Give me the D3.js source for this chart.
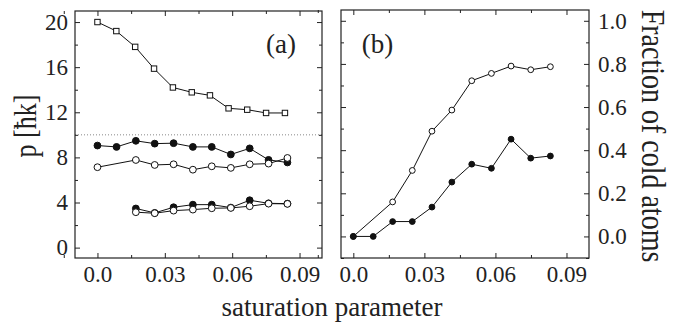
<!DOCTYPE html>
<html>
<head>
<meta charset="utf-8">
<script src="https://cdn.jsdelivr.net/npm/d3@7"></script>
<style>
  body { margin: 0; background: #fff; }
  svg text { font-family: "Liberation Serif", "Times New Roman", serif; }
  .axis path { display: none; }
  .axis line { stroke: #222; }
  .axis text { font-size: 23px; fill: #222; font-family: "Liberation Serif", serif; }
</style>
</head>
<body>
<svg width="689" height="322"></svg>
<script>

// panel (a): momentum p [hbar k] vs saturation parameter
var xSquares = [0, 0.0084, 0.0168, 0.0252, 0.0336, 0.042, 0.0501, 0.0584, 0.0667, 0.0751, 0.0835];
var pSquares = [20.0, 19.2, 17.8, 15.87, 14.2, 13.77, 13.5, 12.35, 12.23, 11.94, 11.94];

var xCircles = [0, 0.0085, 0.0171, 0.0255, 0.0339, 0.0425, 0.0509, 0.0594, 0.0678, 0.0762, 0.0846];
var pFilledHigh = [9.05, 8.93, 9.47, 9.22, 9.26, 8.93, 8.93, 8.26, 8.8, 7.78, 7.55];
var xOpenHigh = [0, 0.0171, 0.0255, 0.0339, 0.0425, 0.0509, 0.0594, 0.0678, 0.0762, 0.0846];
var pOpenHigh = [7.13, 7.77, 7.33, 7.39, 6.91, 7.21, 7.07, 7.39, 7.45, 7.95];

var xLow = [0.0171, 0.0255, 0.0339, 0.0425, 0.0509, 0.0594, 0.0678, 0.0762, 0.0846];
var pFilledLow = [3.47, 3.08, 3.58, 3.81, 3.81, 3.55, 4.2, 3.93, 3.9];
var pOpenLow = [3.14, 3.05, 3.28, 3.37, 3.49, 3.52, 3.67, 3.9, 3.88];

var pLimit = 10;

// panel (b): fraction of cold atoms
var xFrac = [0, 0.0084, 0.0166, 0.0249, 0.0332, 0.0416, 0.05, 0.0583, 0.0666, 0.0749, 0.0832];
var fracOpen = [0, null, 0.16, 0.306, 0.488, 0.586, 0.722, 0.756, 0.79, 0.773, 0.787];
var fracFilled = [0, 0, 0.069, 0.069, 0.136, 0.252, 0.335, 0.316, 0.451, 0.363, 0.373];

var xTicks = [0, 0.03, 0.06, 0.09];
var xMinor = [-0.015, 0.015, 0.045, 0.075];
var pTicks = [0, 4, 8, 12, 16, 20];
var pMinor = [2, 6, 10, 14, 18];
var fTicks = [0, 0.2, 0.4, 0.6, 0.8, 1.0];
var fMinor = [-0.1, 0.1, 0.3, 0.5, 0.7, 0.9];

var svg = d3.select("svg");

function zip(xs, ys) {
  return xs.map(function(x, i) { return [x, ys[i]]; })
    .filter(function(d) { return d[1] != null; });
}

// box with inward ticks on all four sides
function frame(g, x, y, minorY, majorY, leftLabels, rightLabels) {
  var x0 = x.range()[0], x1 = x.range()[1], y0 = y.range()[0], y1 = y.range()[1];

  g.append("g").attr("class", "axis")
      .attr("transform", "translate(0," + y0 + ")")
      .call(d3.axisBottom(x).tickValues(xTicks).tickSize(-5).tickPadding(8)
        .tickFormat(function(d) { return d === 0 ? "0.0" : d3.format(".2f")(d); }));
  g.append("g").attr("class", "axis")
      .attr("transform", "translate(0," + y0 + ")")
      .call(d3.axisBottom(x).tickValues(xMinor).tickSize(-3).tickFormat(""));
  g.append("g").attr("class", "axis")
      .attr("transform", "translate(0," + y1 + ")")
      .call(d3.axisTop(x).tickValues(xTicks).tickSize(-5).tickFormat(""));
  g.append("g").attr("class", "axis")
      .attr("transform", "translate(0," + y1 + ")")
      .call(d3.axisTop(x).tickValues(xMinor).tickSize(-3).tickFormat(""));

  g.append("g").attr("class", "axis")
      .attr("transform", "translate(" + x0 + ",0)")
      .call(d3.axisLeft(y).tickValues(majorY).tickSize(-5).tickPadding(7)
        .tickFormat(leftLabels || ""));
  g.append("g").attr("class", "axis")
      .attr("transform", "translate(" + x0 + ",0)")
      .call(d3.axisLeft(y).tickValues(minorY).tickSize(-3).tickFormat(""));
  g.append("g").attr("class", "axis")
      .attr("transform", "translate(" + x1 + ",0)")
      .call(d3.axisRight(y).tickValues(majorY).tickSize(-5).tickPadding(9)
        .tickFormat(rightLabels || ""));
  g.append("g").attr("class", "axis")
      .attr("transform", "translate(" + x1 + ",0)")
      .call(d3.axisRight(y).tickValues(minorY).tickSize(-3).tickFormat(""));

  g.append("rect")
      .attr("x", x0).attr("y", y1)
      .attr("width", x1 - x0).attr("height", y0 - y1)
      .attr("fill", "none").attr("stroke", "#222").attr("stroke-width", 1.2);
}

function series(g, x, y, pts, shape, fill, size) {
  var line = d3.line().x(function(d) { return x(d[0]); }).y(function(d) { return y(d[1]); });
  g.append("path").datum(pts)
      .attr("d", line).attr("fill", "none").attr("stroke", "#111").attr("stroke-width", 1);
  if (shape === "square") {
    g.selectAll(null).data(pts).enter().append("rect")
        .attr("x", function(d) { return x(d[0]) - size; })
        .attr("y", function(d) { return y(d[1]) - size; })
        .attr("width", size * 2).attr("height", size * 2)
        .attr("fill", fill).attr("stroke", "#111").attr("stroke-width", 1);
  } else {
    g.selectAll(null).data(pts).enter().append("circle")
        .attr("cx", function(d) { return x(d[0]); })
        .attr("cy", function(d) { return y(d[1]); })
        .attr("r", size)
        .attr("fill", fill).attr("stroke", "#111").attr("stroke-width", 1);
  }
}

// ---- panel (a)
var xa = d3.scaleLinear().domain([-0.01, 0.1]).range([75, 322]);
var ya = d3.scaleLinear().domain([-0.92, 20.98]).range([258, 11]);
var ga = svg.append("g");

ga.append("line")
    .attr("x1", xa.range()[0]).attr("x2", xa.range()[1])
    .attr("y1", ya(pLimit)).attr("y2", ya(pLimit))
    .attr("stroke", "#888").attr("stroke-width", 1).attr("stroke-dasharray", "1,2");

frame(ga, xa, ya, pMinor, pTicks, d3.format("d"), null);

series(ga, xa, ya, zip(xSquares, pSquares), "square", "#fff", 2.7);
series(ga, xa, ya, zip(xCircles, pFilledHigh), "circle", "#111", 3.4);
series(ga, xa, ya, zip(xOpenHigh, pOpenHigh), "circle", "#fff", 3.4);
series(ga, xa, ya, zip(xLow, pFilledLow), "circle", "#111", 3.4);
series(ga, xa, ya, zip(xLow, pOpenLow), "circle", "#fff", 3.4);

ga.append("text").attr("x", 281).attr("y", 53)
    .attr("text-anchor", "middle").attr("font-size", 27).attr("fill", "#222").text("(a)");

ga.append("text")
    .attr("transform", "translate(36,126) rotate(-90) scale(1,1.18)")
    .attr("text-anchor", "middle").attr("font-size", 26).attr("fill", "#222")
    .text("p [ħk]");

// ---- panel (b)
var xb = d3.scaleLinear().domain([-0.0052, 0.0995]).range([341, 589]);
var yb = d3.scaleLinear().domain([-0.1, 1.05]).range([258, 10]);
var gb = svg.append("g");

frame(gb, xb, yb, fMinor, fTicks, null, d3.format(".1f"));

series(gb, xb, yb, zip(xFrac, fracOpen), "circle", "#fff", 2.9);
series(gb, xb, yb, zip(xFrac, fracFilled), "circle", "#111", 2.9);

gb.append("text").attr("x", 377.5).attr("y", 53)
    .attr("text-anchor", "middle").attr("font-size", 27).attr("fill", "#222").text("(b)");

gb.append("text")
    .attr("transform", "translate(642,136) rotate(90) scale(1,1.18)")
    .attr("text-anchor", "middle").attr("font-size", 28).attr("fill", "#222")
    .text("Fraction of cold atoms");

svg.append("text").attr("x", 332).attr("y", 316)
    .attr("text-anchor", "middle").attr("font-size", 27).attr("fill", "#222")
    .text("saturation parameter");

</script>
</body>
</html>
